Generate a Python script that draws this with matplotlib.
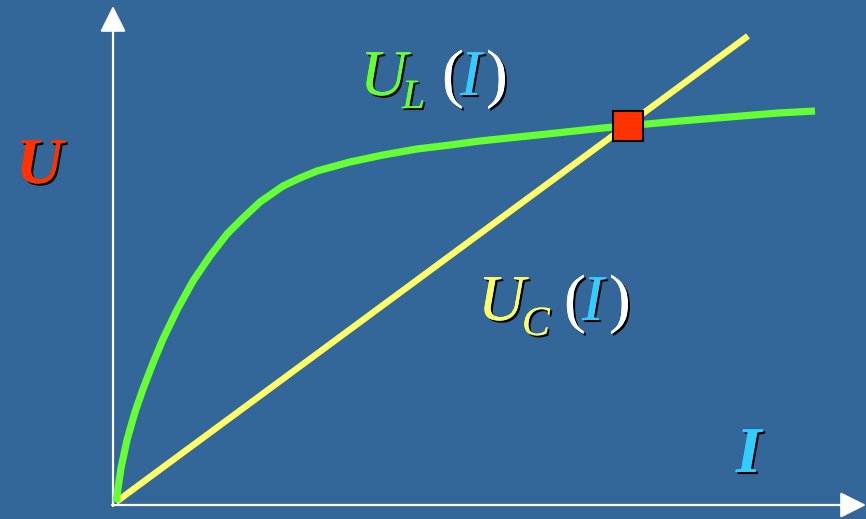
import matplotlib
matplotlib.use("Agg")
import matplotlib.pyplot as plt
import matplotlib.patheffects as pe

BG = "#336699"
GREEN = "#66ff33"
YELLOW = "#ffff66"
RED = "#ff3300"
CYAN = "#33ccff"

# U_L(I) curve
i_ul = [0, 0.05, 0.11, 0.19, 0.27, 0.37, 0.47, 0.61, 0.77, 0.94, 1.11,
        1.27, 1.44, 1.67, 1.84, 2.01, 2.34, 2.67, 3.01, 3.34, 3.64, 4.31,
        4.87, 5.64, 6.62, 6.99]
u_ul = [0, 0.34, 0.62, 0.90, 1.13, 1.39, 1.63, 1.92, 2.21, 2.46, 2.68,
        2.84, 3.00, 3.16, 3.24, 3.31, 3.40, 3.47, 3.53, 3.57, 3.61, 3.68,
        3.74, 3.81, 3.89, 3.91]

# U_C(I) straight line
i_uc = [0, 6.32]
u_uc = [0, 4.66]

# working point
i_op = [5.12]
u_op = [3.76]

fig = plt.figure(figsize=(8.66, 5.19), dpi=100)
fig.patch.set_facecolor(BG)
ax = fig.add_axes([0, 0, 1, 1])
ax.set_facecolor(BG)
ax.set_xlim(-1.16, 7.50)
ax.set_ylim(-0.17, 5.02)
ax.axis("off")

# axes with arrows
arr = dict(arrowstyle="-|>,head_length=1.0,head_width=0.5", color="white",
           lw=1.6, mutation_scale=16, shrinkA=0, shrinkB=0)
ax.annotate("", xy=(-0.03, 4.96), xytext=(-0.03, -0.04), arrowprops=arr)
ax.annotate("", xy=(7.50, -0.03), xytext=(-0.04, -0.03), arrowprops=arr)

ax.plot(i_uc, u_uc, color=YELLOW, lw=4.6, solid_capstyle="butt", zorder=3)
ax.plot(i_ul, u_ul, color=GREEN, lw=5.2, solid_capstyle="butt",
        solid_joinstyle="round", zorder=4)
ax.plot(i_op, u_op, marker="s", ms=22, color=RED, mec="black", mew=1.5,
        ls="none", zorder=5)

shadow = [pe.withSimplePatchShadow(offset=(1.5, -1.5), shadow_rgbFace="black",
                                   alpha=1.0), pe.Normal()]
serif = ["Liberation Serif", "DejaVu Serif"]


def put(x, y, s, color, size, style="italic", weight="normal"):
    ax.text(x, y, s, color=color, fontsize=size, family=serif,
            style=style, weight=weight, ha="left", va="baseline",
            path_effects=shadow, zorder=6)


# U_L (I)
put(2.44, 4.07, "U", GREEN, 47)
put(2.86, 3.94, "L", GREEN, 30)
put(3.26, 4.07, "(", "white", 47, style="normal")
put(3.44, 4.07, "I", CYAN, 47)
put(3.70, 4.07, ")", "white", 47, style="normal")

# U_C (I)
put(3.62, 1.82, "U", YELLOW, 47)
put(4.06, 1.67, "C", YELLOW, 30)
put(4.48, 1.82, "(", "white", 47, style="normal")
put(4.66, 1.82, "I", CYAN, 47)
put(4.93, 1.82, ")", "white", 47, style="normal")

# axis names
put(-1.00, 3.19, "U", RED, 47, weight="bold")
put(6.20, 0.30, "I", CYAN, 47, weight="bold")

fig.savefig("out.png", dpi=100, facecolor=BG)
